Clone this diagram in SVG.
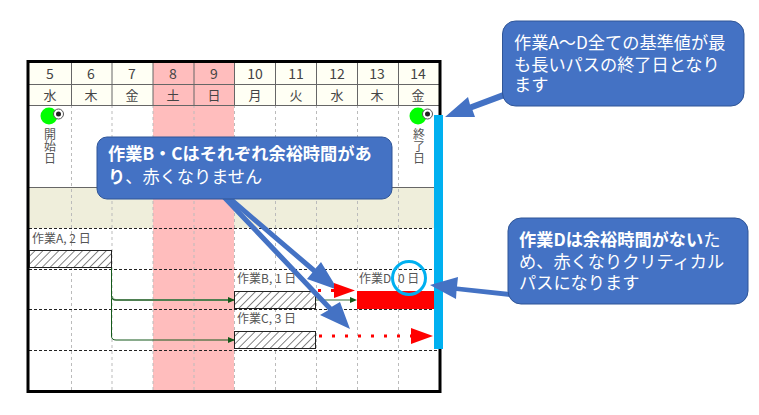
<svg xmlns="http://www.w3.org/2000/svg" width="759" height="415" viewBox="0 0 759 415">
<defs>
<pattern id="hatch" width="5.600" height="5.600" patternUnits="userSpaceOnUse" patternTransform="rotate(45)"><rect width="5.600" height="5.600" fill="#fff"/><line x1="0" y1="0" x2="0" y2="5.600" stroke="#333" stroke-width="1.200"/></pattern>
<marker id="ga" markerWidth="7" markerHeight="6" refX="6" refY="3" orient="auto" markerUnits="userSpaceOnUse"><path d="M0 0L7 3L0 6Z" fill="#14591a"/></marker>
</defs>
<style>
text{font-family:"Noto Sans CJK JP","Liberation Sans",sans-serif}
.hd{font-size:14px;fill:#444;text-anchor:middle}
.lb{font-size:12px;fill:#555}
.v{font-size:12px;fill:#555;text-anchor:middle;writing-mode:vertical-rl}
.grid{stroke:#666;stroke-width:1;fill:none}
.vd{stroke:#bbb;stroke-width:1;stroke-dasharray:3 3}
.hdl{stroke:#222;stroke-width:1;stroke-dasharray:3 2}
.bar{fill:url(#hatch);stroke:#222;stroke-width:1}
.co{fill:#4472c4;stroke:#2f5597;stroke-width:1}
.ct{fill:#fff;font-size:17.200px}
.b{font-weight:700}
.dep{fill:none;stroke:#14591a;stroke-width:1;marker-end:url(#ga)}
.dot{stroke:#f00;stroke-width:3;stroke-dasharray:3 10;fill:none}
.ar{fill:#4472c4}
</style>
<rect width="759" height="415" fill="#fff"/>
<g id="chart">
<rect x="29" y="63" width="410" height="42" fill="#fffff4"/>
<rect x="153" y="63" width="81" height="328" fill="#ffbdbd"/>
<rect x="29" y="187" width="124" height="41" fill="#efeedb"/><rect x="234" y="187" width="205" height="41" fill="#efeedb"/>
<g class="vd">
<line x1="71.500" y1="105" x2="71.500" y2="391"/><line x1="112" y1="105" x2="112" y2="391"/><line x1="153" y1="105" x2="153" y2="391"/><line x1="194" y1="105" x2="194" y2="391"/><line x1="234.500" y1="105" x2="234.500" y2="391"/><line x1="275.500" y1="105" x2="275.500" y2="391"/><line x1="316.500" y1="105" x2="316.500" y2="391"/><line x1="357.500" y1="105" x2="357.500" y2="391"/><line x1="398.500" y1="105" x2="398.500" y2="391"/>
</g>
<path class="grid" d="M29 84.500H439M29 105.500H439M71.500 63V105M112 63V105M153 63V105M194 63V105M234.500 63V105M275.500 63V105M316.500 63V105M357.500 63V105M398.500 63V105M29 187.500H439"/>
<g class="hdl"><line x1="29" y1="228.500" x2="439" y2="228.500"/><line x1="29" y1="269.500" x2="439" y2="269.500"/><line x1="29" y1="309.500" x2="439" y2="309.500"/><line x1="29" y1="350.500" x2="439" y2="350.500"/></g>
<rect x="28" y="61.500" width="412" height="330" fill="none" stroke="#000" stroke-width="3"/>
<g class="hd"><text x="50" y="79">5</text><text x="91" y="79">6</text><text x="132" y="79">7</text><text x="173" y="79">8</text><text x="214" y="79">9</text><text x="255" y="79">10</text><text x="296" y="79">11</text><text x="337" y="79">12</text><text x="377" y="79">13</text><text x="418" y="79">14</text></g>
<g class="hd" style="font-size:13px"><text x="50" y="100">水</text><text x="91" y="100">木</text><text x="132" y="100">金</text><text x="173" y="100">土</text><text x="214" y="100">日</text><text x="255" y="100">月</text><text x="296" y="100">火</text><text x="337" y="100">水</text><text x="377" y="100">木</text><text x="418" y="100">金</text></g>
</g>
<g id="start">
<circle cx="49" cy="116" r="8.500" fill="#0f0"/><circle cx="58.500" cy="114" r="5" fill="#fff" stroke="#555"/><circle cx="58.500" cy="114" r="2.500" fill="#222"/>
<text class="v" x="50" y="146">開始日</text>
</g>
<g id="end">
<circle cx="418" cy="116" r="8.500" fill="#0f0"/><circle cx="427.500" cy="114" r="5" fill="#fff" stroke="#555"/><circle cx="427.500" cy="114" r="2.500" fill="#222"/>
<text class="v" x="419" y="146">終了日</text>
</g>
<g id="connectors">
<path class="dep" d="M111.500 259V336Q111.500 340 116 340H234"/>
<path d="M112 296Q112 300 116 300H232" fill="none" stroke="#8aa88a" stroke-width="2"/>
<path class="dep" d="M111.500 259V296Q111.500 300 116 300H234"/>
<path d="M316 300H352" fill="none" stroke="#9ab59a" stroke-width="2"/>
<path d="M350 297L357 300L350 303Z" fill="#14591a"/>
</g>
<g id="taskA"><text class="lb" x="32" y="243">作業A, 2 日</text><rect class="bar" x="29.500" y="250.500" width="82" height="17"/></g>
<g id="taskB"><text class="lb" x="237" y="283">作業B, 1 日</text><rect class="bar" x="234.500" y="291.500" width="81" height="17"/></g>
<g id="taskC"><text class="lb" x="237" y="323">作業C, 3 日</text><rect class="bar" x="234.500" y="331.500" width="81" height="17"/></g>
<g id="taskD"><text class="lb" x="359" y="283">作業D</text><text class="lb" x="398" y="283">0 日</text><rect x="357" y="291" width="78" height="18" fill="#f00"/></g>
<g id="limit"><rect x="434" y="115" width="9" height="234" fill="#00b0f0"/></g>
<g id="circle"><circle cx="409" cy="278" r="16.500" fill="none" stroke="#00b0f0" stroke-width="3"/></g>
<g id="pointers">
<path class="ar" d="M226.400 198.900L312.400 272.400L307 279L338 290L321 262L315.600 268.600L229.600 195.100Z"/>
<path class="dot" d="M318 290.500H336"/><path d="M334 283L355 290.500L334 298Z" fill="#f00"/>
<path class="ar" d="M222.200 198.800L328.200 310.300L320 315L350 329L340 302L331.800 306.700L225.800 195.200Z"/>
<path class="dot" d="M319 336H412"/><path d="M411 328L433 336L411 344Z" fill="#f00"/>
<path class="ar" d="M503 92L470 104.500L468 97L445 117L475 117L472.500 110L505 98Z"/>
<path class="ar" d="M510 292L457 286.500L458 277L430 285L456 299L456.500 291L510 297Z"/>
</g>
<g id="callout-bc"><rect class="co" x="97" y="137" width="295" height="62" rx="10"/>
<text class="ct" x="108" y="160"><tspan class="b">作業B・Cはそれぞれ余裕時間があ</tspan><tspan class="b" x="108" dy="23">り</tspan><tspan>、赤くなりません</tspan></text></g>
<g id="callout-all"><rect class="co" x="502.500" y="21" width="241.500" height="85" rx="13"/>
<text class="ct" x="514" y="49">作業A～D全ての基準値が最<tspan x="514" dy="22">も長いパスの終了日となり</tspan><tspan x="514" dy="20">ます</tspan></text></g>
<g id="callout-d"><rect class="co" x="508" y="218" width="240" height="86" rx="13"/>
<text class="ct" x="519" y="246"><tspan class="b">作業Dは余裕時間がない</tspan>た<tspan x="519" dy="22">め、赤くなりクリティカル</tspan><tspan x="519" dy="21">パスになります</tspan></text></g>
</svg>
